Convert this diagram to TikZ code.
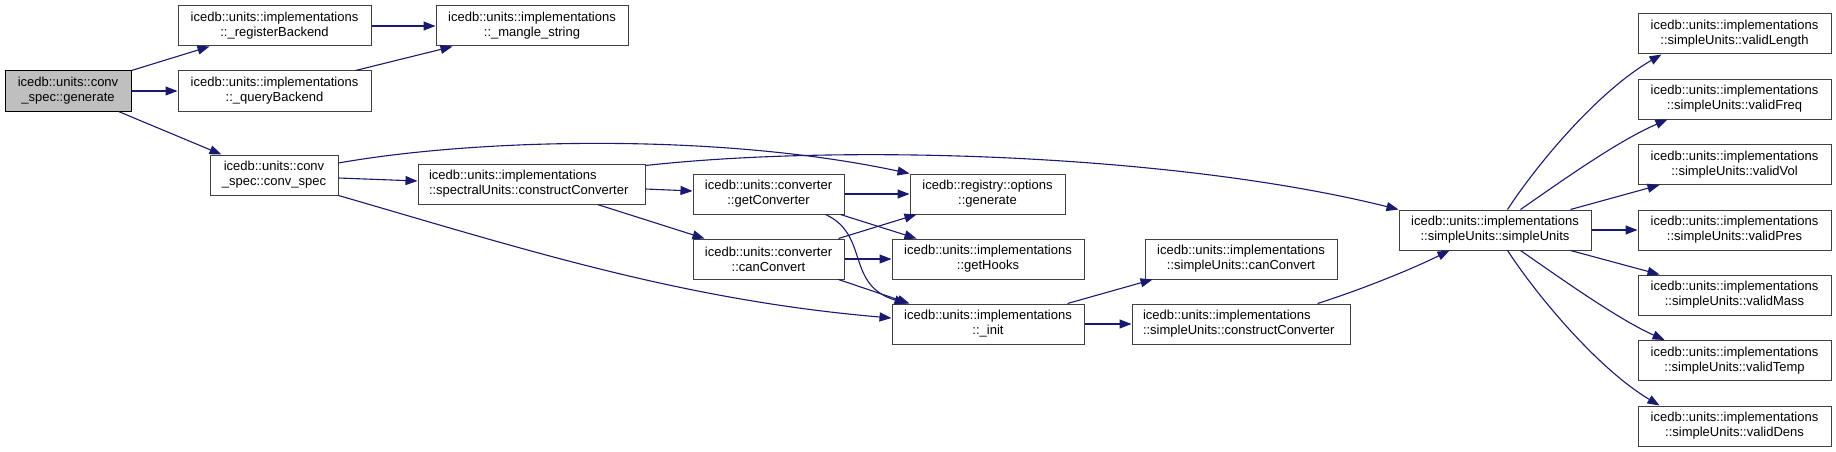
\documentclass[tikz,border=0pt]{standalone}
\usepackage{fontspec}
\setmainfont{Liberation Sans}
\usetikzlibrary{arrows.meta,calc}
\definecolor{edgeblue}{HTML}{191970}
\definecolor{boxgray}{HTML}{404040}
\definecolor{genfill}{HTML}{BFBFBF}
\newcommand{\dxfont}{\fontsize{13}{15}\selectfont}
\tikzset{
  box/.style={draw=boxgray, fill=white, line width=1pt, minimum height=40pt,
    inner sep=0pt, align=center, font=\dxfont},
  lbox/.style={box, align=left, inner xsep=11pt},
  e/.style={draw=edgeblue, line width=1.1pt, -{Triangle[length=12pt,width=9pt]}}
}
\begin{document}
\begin{tikzpicture}[x=1pt,y=-1pt]
\useasboundingbox (0,0) rectangle (1836,452);
% nodes
\node[box, minimum width=126pt, fill=genfill, draw=black] (gen) at (68,91) {icedb::units::conv\\\_spec::generate};
\node[box, minimum width=193pt] (reg) at (274.5,26) {icedb::units::implementations\\::\_registerBackend};
\node[box, minimum width=193pt] (qry) at (274.5,91) {icedb::units::implementations\\::\_queryBackend};
\node[box, minimum width=192pt] (mangle) at (532,26) {icedb::units::implementations\\::\_mangle\_string};
\node[box, minimum width=128pt] (cs) at (274,175) {icedb::units::conv\\\_spec::conv\_spec};
\node[lbox, text width=205pt] (spec) at (531.5,184) {icedb::units::implementations\\::spectralUnits::constructConverter};
\node[box, minimum width=151pt] (getc) at (768.5,194) {icedb::units::converter\\::getConverter};
\node[box, minimum width=155pt] (regg) at (987.5,194) {icedb::registry::options\\::generate};
\node[box, minimum width=151pt] (canc) at (768.5,259) {icedb::units::converter\\::canConvert};
\node[box, minimum width=192pt] (hooks) at (988,259) {icedb::units::implementations\\::getHooks};
\node[box, minimum width=192pt] (init) at (988,324) {icedb::units::implementations\\::\_init};
\node[box, minimum width=192pt] (sucan) at (1241,259) {icedb::units::implementations\\::simpleUnits::canConvert};
\node[lbox, text width=196pt] (succ) at (1241,324) {icedb::units::implementations\\::simpleUnits::constructConverter};
\node[box, minimum width=192pt] (su) at (1495,230) {icedb::units::implementations\\::simpleUnits::simpleUnits};
\node[box, minimum width=193pt] (vlen) at (1734.5,34) {icedb::units::implementations\\::simpleUnits::validLength};
\node[box, minimum width=193pt] (vfreq) at (1734.5,99) {icedb::units::implementations\\::simpleUnits::validFreq};
\node[box, minimum width=193pt] (vvol) at (1734.5,164.5) {icedb::units::implementations\\::simpleUnits::validVol};
\node[box, minimum width=193pt] (vpres) at (1734.5,230) {icedb::units::implementations\\::simpleUnits::validPres};
\node[box, minimum width=193pt] (vmass) at (1734.5,295) {icedb::units::implementations\\::simpleUnits::validMass};
\node[box, minimum width=193pt] (vtemp) at (1734.5,360.5) {icedb::units::implementations\\::simpleUnits::validTemp};
\node[box, minimum width=193pt] (vdens) at (1734.5,426) {icedb::units::implementations\\::simpleUnits::validDens};
% edges
\draw[e] (gen.north east) -- ($(reg.south west)+(32,0)$);
\draw[e] (gen.east) -- (qry.west);
\draw[e] ($(gen.south east)+(-13,0)$) -- ($(cs.north west)+(12,0)$);
\draw[e] (reg.east) -- (mangle.west);
\draw[e] ($(qry.north east)+(-16,0)$) -- ($(mangle.south west)+(17,0)$);
\draw[e] ($(cs.east)+(0,3)$) -- ($(spec.west)+(0,-3)$);
\draw[e] ($(cs.east)+(0,-12)$) .. controls (480,138) and (720,133) .. (regg.north west);
\draw[e] ($(spec.north east)+(0,2)$) .. controls (850,143) and (1180,155) .. (su.north west);
\draw[e] (cs.south east) .. controls (520,248) and (680,300) .. ($(init.west)+(0,-6)$);
\draw[e] ($(spec.east)+(0,5)$) -- ($(getc.west)+(0,-3)$);
\draw[e] ($(spec.south east)+(-48,0)$) -- ($(canc.north west)+(12,0)$);
\draw[e] (getc.east) -- (regg.west);
\draw[e] ($(getc.south east)+(-4,0)$) -- ($(hooks.north west)+(25,0)$);
\draw[e] ($(getc.south east)+(-19,0)$) .. controls (870,235) and (845,285) .. ($(init.north west)+(15,0)$);
\draw[e] ($(canc.north east)+(-6,0)$) -- ($(regg.south west)+(7,0)$);
\draw[e] (canc.east) -- (hooks.west);
\draw[e] ($(canc.south east)+(-6,0)$) -- ($(init.north west)+(18,0)$);
\draw[e] ($(init.north east)+(-17,0)$) -- ($(sucan.south west)+(8,0)$);
\draw[e] (init.east) -- (succ.west);
\draw[e] ($(succ.north east)+(-33,0)$) .. controls (1360,290) and (1410,270) .. ($(su.south west)+(51,0)$);
\draw[e] ($(su.north west)+(109,0)$) .. controls (1540,160) and (1600,90) .. ($(vlen.south west)+(24,0)$);
\draw[e] ($(su.north west)+(122,0)$) .. controls (1570,175) and (1620,140) .. ($(vfreq.south west)+(30,0)$);
\draw[e] ($(su.north east)+(-21,0)$) -- ($(vvol.south west)+(22,0)$);
\draw[e] (su.east) -- (vpres.west);
\draw[e] ($(su.south east)+(-21,0)$) -- ($(vmass.north west)+(22,0)$);
\draw[e] ($(su.south west)+(122,0)$) .. controls (1570,285) and (1620,320) .. ($(vtemp.north west)+(27,0)$);
\draw[e] ($(su.south west)+(109,0)$) .. controls (1540,300) and (1600,370) .. ($(vdens.north west)+(22,0)$);
\end{tikzpicture}
\end{document}
